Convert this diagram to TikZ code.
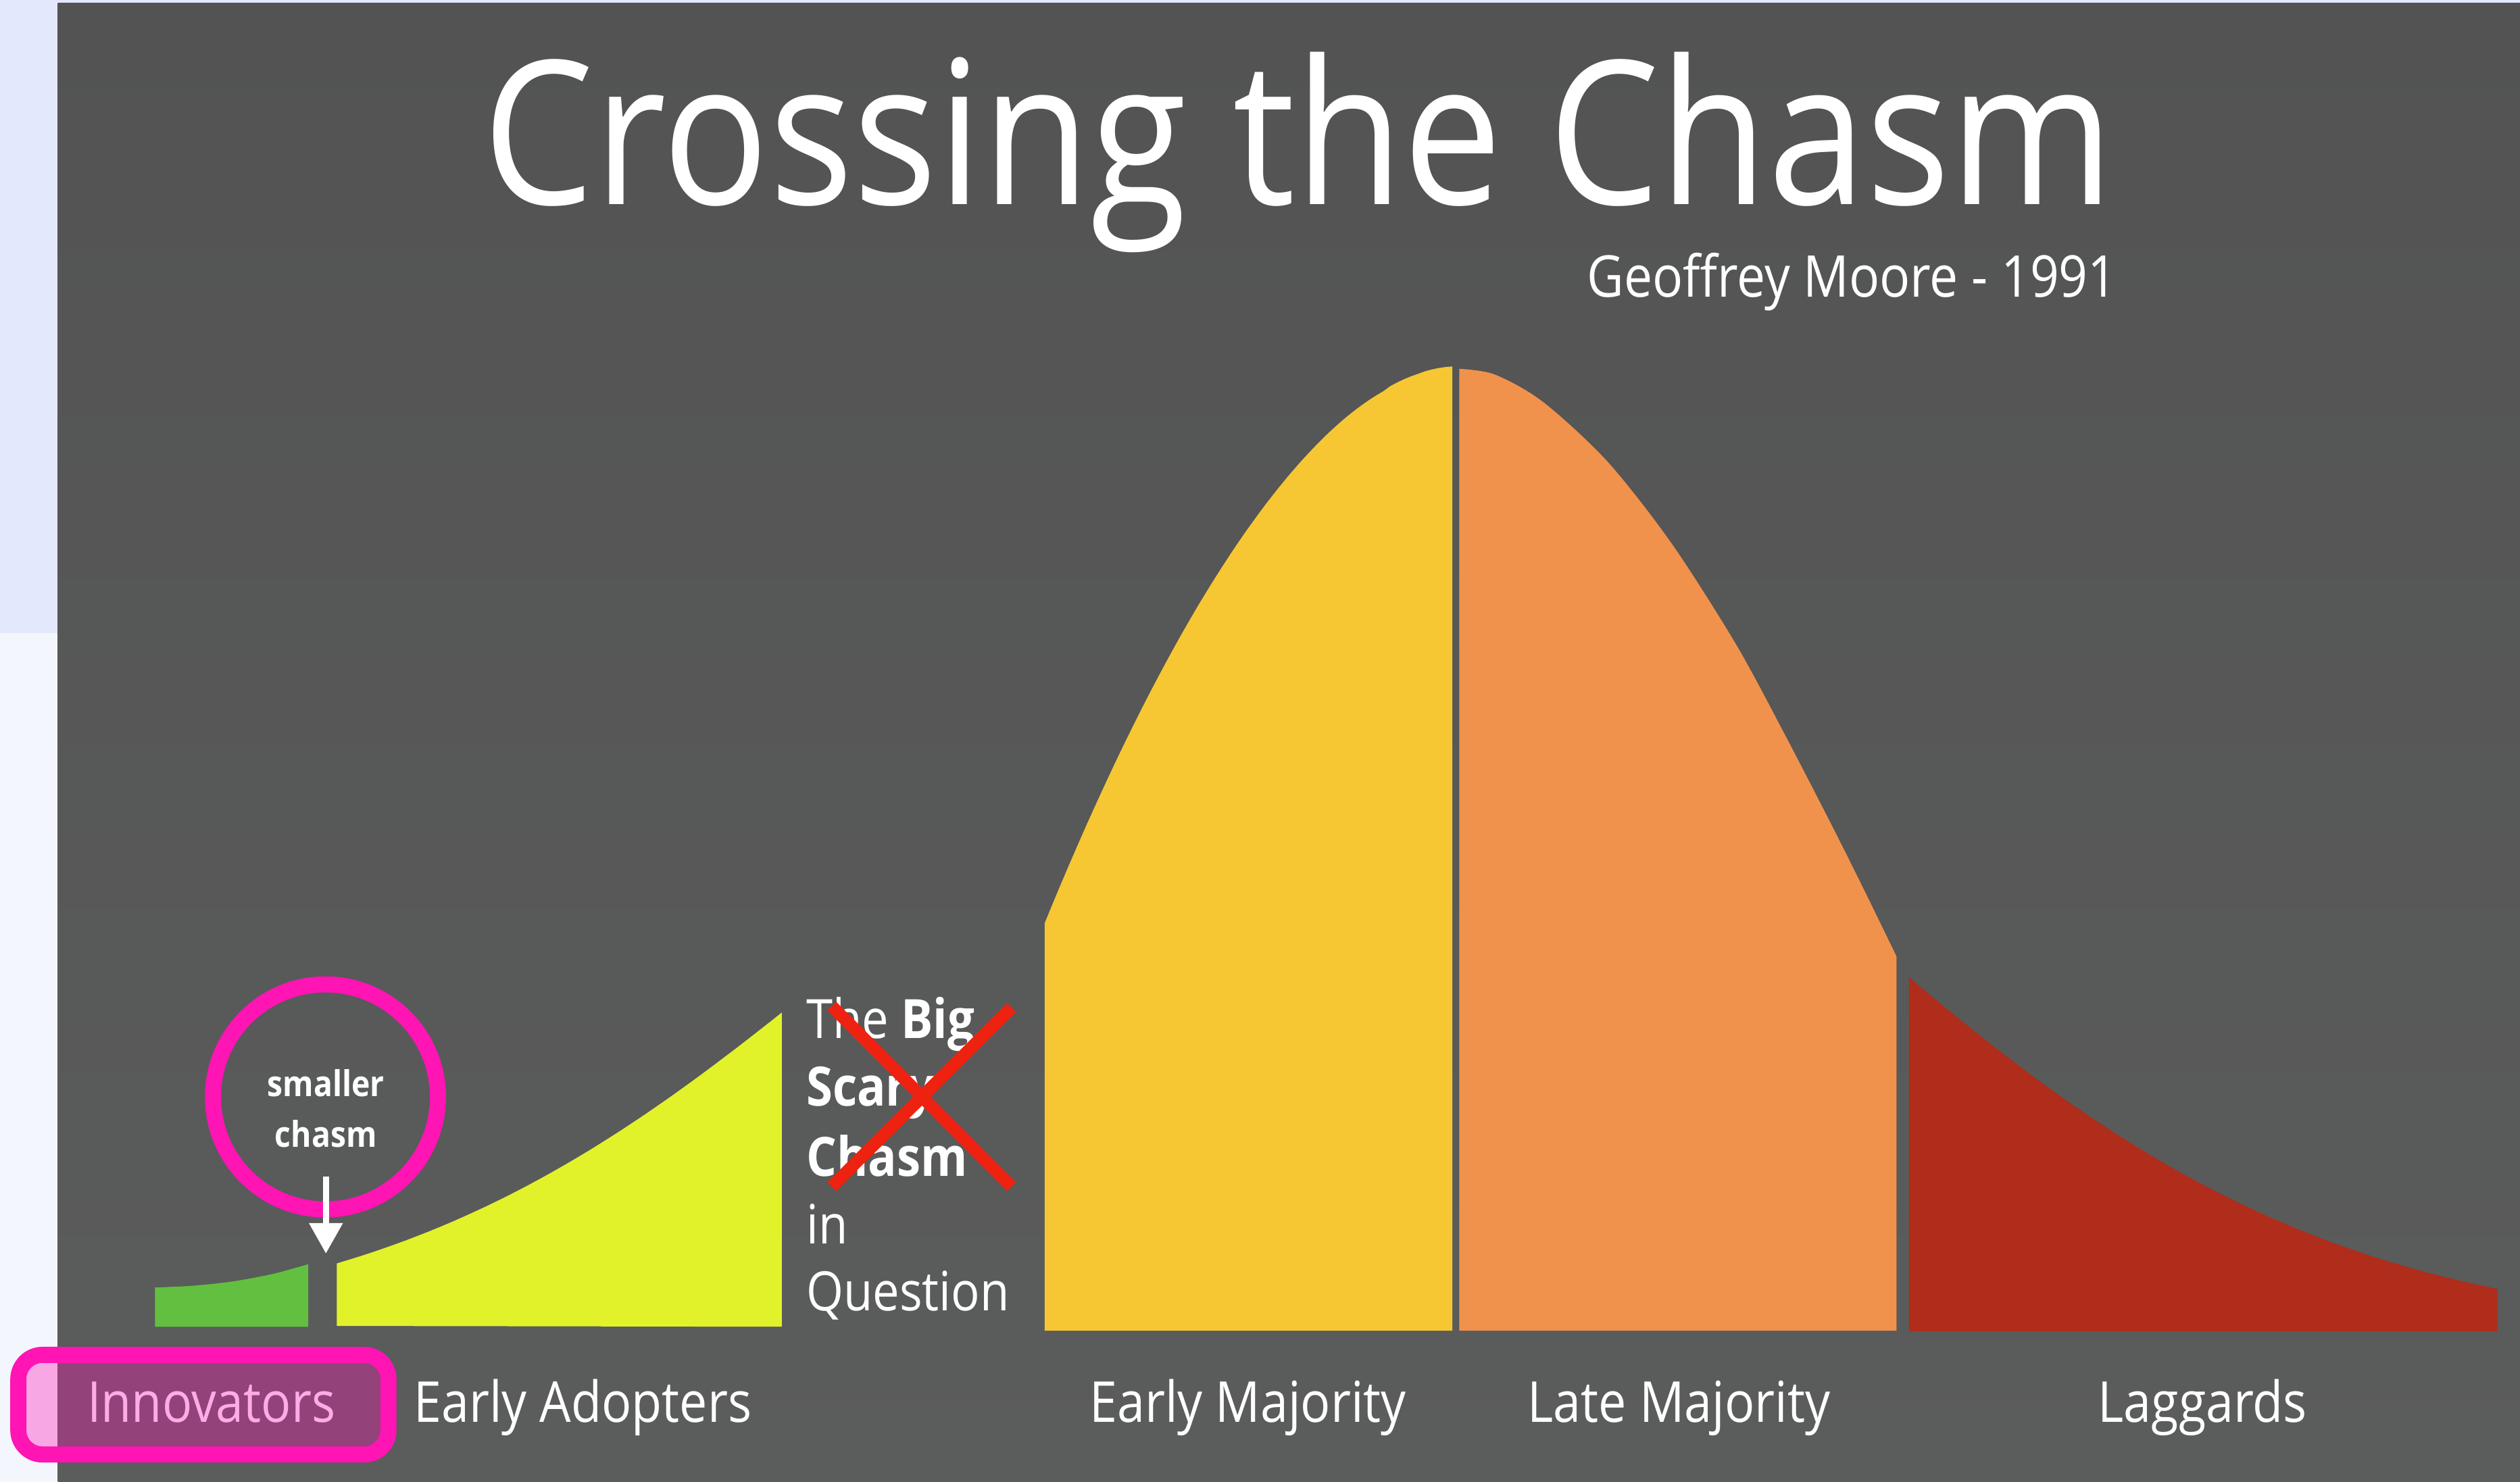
\documentclass[tikz,border=0pt]{standalone}
\usepackage{fontspec}
\setmainfont{Open Sans}[FakeStretch=0.88]
\usetikzlibrary{arrows.meta}

\definecolor{lav}{HTML}{E4E8FC}
\definecolor{lavwhite}{HTML}{F4F6FD}
\definecolor{bgtop}{HTML}{535353}
\definecolor{bgbot}{HTML}{5B5C5C}
\definecolor{innogreen}{HTML}{63BF3F}
\definecolor{adoptlime}{HTML}{E1F22A}
\definecolor{earlyyellow}{HTML}{F6C733}
\definecolor{lateorange}{HTML}{F1924C}
\definecolor{lagred}{HTML}{AF2D1A}
\definecolor{hotpink}{HTML}{FF14B4}
\definecolor{crossred}{HTML}{EE2211}

\begin{document}
\begin{tikzpicture}[x=0.1mm,y=-0.1mm]
	\tikzstyle{every node}+=[inner sep=0pt,text=white]
	\tikzstyle{seglabel}=[anchor=base,font=\fontsize{10}{12}\selectfont]
	\tikzstyle{chasmline}=[anchor=base west,font=\fontsize{9.6}{12}\selectfont]
	\tikzstyle{crossbar}=[crossred,line width=2.2pt]
	\useasboundingbox (0,0) rectangle (1568,922);
	% backdrop
	\fill [lav] (0,0) rectangle (1568,394);
	\fill [lavwhite] (0,394) rectangle (1568,922);
	\shade [top color=bgtop,bottom color=bgbot] (36,2) rectangle (1568,922);
	% headings
	\node (title) [anchor=base,font=\fontsize{35.5}{40}\selectfont] at (808,127) {Crossing the Chasm};
	\node (author) [anchor=base east,font=\fontsize{10.2}{12}\selectfont] at (1318,185) {Geoffrey Moore - 1991};
	% the bell, cut in five
	\fill [innogreen] (96.4,825.6) -- plot [smooth] coordinates {(96.4,801.1) (120,800) (145,797.3) (170,792.6) (191.8,786.6)} -- (191.8,825.6) -- cycle;
	\fill [adoptlime] (209.6,825) -- plot [domain=209.6:486.5,samples=40] (\x,{825-379*exp(-((\x-812)/100)^2/15.944)}) -- (486.5,825.5) -- cycle;
	\fill [earlyyellow] (650,828) -- plot [domain=650:903.7,samples=60] (\x,{828-600*(1-pow(abs(\x-905)/346,1.8))}) -- (903.7,828) -- cycle;
	\fill [lateorange] (908,828) -- plot [smooth] coordinates {(908,229.5) (930,233) (960,250) (1000,287) (1040,338) (1080,400.6) (1110,456) (1140,514) (1160,554) (1180,595)} -- (1180,828) -- cycle;
	\fill [lagred] (1187.8,828.4) -- plot [domain=1187.8:1554,samples=50] (\x,{828.4-440*exp(-((\x-827.6)/100)^2/18.7526)}) -- (1554,828.4) -- cycle;
	% smaller chasm
	\node (ring) [draw=hotpink,line width=2.85pt,circle,minimum size=14mm] at (202.5,682.5) {};
	\node (small1) [anchor=base,font=\bfseries\fontsize{6.3}{8}\selectfont] at (202.8,682.4) {smaller};
	\node (small2) [anchor=base,font=\bfseries\fontsize{6.3}{8}\selectfont] at (202.8,713.8) {chasm};
	\coordinate (arrtop) at (202.8,732);
	\coordinate (arrtip) at (202.8,780);
	\draw [white,line width=1.14pt,-{Triangle[length=5.4pt,width=5.7pt]}] (arrtop) -- (arrtip);
	% big scary chasm
	\node (big1) [chasmline] at (501,645.9) {The \textbf{Big}};
	\node (big2) [chasmline] at (501,688) {\textbf{Scary}};
	\node (big3) [chasmline] at (501,732) {\textbf{Chasm}};
	\node (big4) [chasmline] at (501,773.8) {in};
	\node (big5) [chasmline] at (501,815.6) {Question};
	\coordinate (xnw) at (517.5,626);
	\coordinate (xne) at (629.4,626.9);
	\coordinate (xsw) at (517.5,738.4);
	\coordinate (xse) at (629.4,738.4);
	\draw [crossbar] (xnw) -- (xse);
	\draw [crossbar] (xne) -- (xsw);
	% segment names
	\node (innov) [seglabel] at (131.5,885) {Innovators};
	\node (adopt) [seglabel] at (362.6,885) {Early Adopters};
	\node (early) [seglabel] at (776.5,885) {Early Majority};
	\node (late) [seglabel] at (1044.7,885) {Late Majority};
	\node (lagg) [seglabel] at (1370.5,885) {Laggards};
	\node (innobox) [draw=hotpink,fill=hotpink,fill opacity=0.35,draw opacity=1,line width=2.85pt,rounded corners=4.3pt,minimum width=23.03mm,minimum height=6.2mm] at (126.55,874) {};
\end{tikzpicture}
\end{document}
